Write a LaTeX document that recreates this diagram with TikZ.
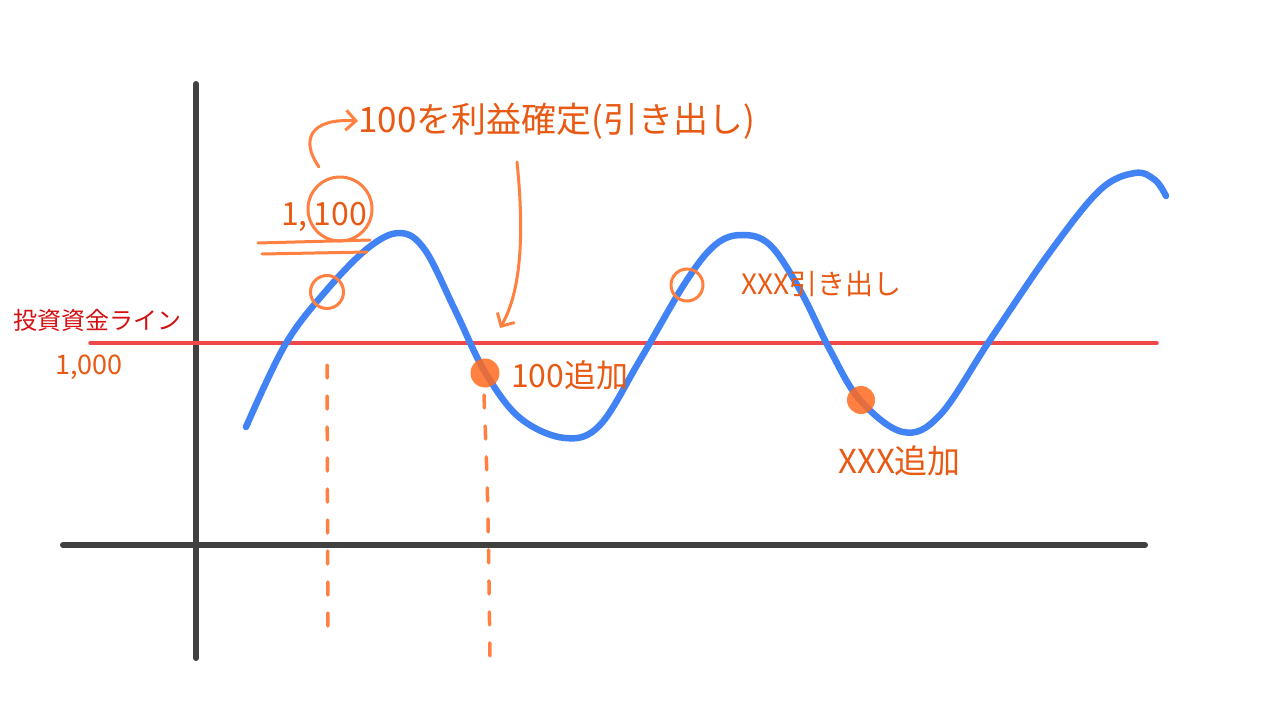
\documentclass[tikz,border=0pt]{standalone}
\usepackage{fontspec}
\setmainfont{Noto Sans CJK JP}
\usetikzlibrary{arrows.meta}
\definecolor{axisgray}{HTML}{404040}
\definecolor{lineblue}{HTML}{4183F5}
\definecolor{linered}{HTML}{F04848}
\definecolor{penorange}{HTML}{FF8040}
\definecolor{textorange}{HTML}{E85A14}
\definecolor{textred}{HTML}{D41010}
\definecolor{dotorange}{HTML}{FF6A1E}
\tikzset{
  axisline/.style={axisgray, line width=6pt, line cap=round},
  redline/.style={linered, line width=3.5pt, line cap=round},
  bluecurve/.style={lineblue, line width=6.5pt, line cap=round, line join=round},
  ocirc/.style={circle, draw=penorange, line width=3pt, inner sep=0pt},
  odot/.style={circle, fill=dotorange, fill opacity=0.85, inner sep=0pt, minimum size=29pt},
  dashline/.style={penorange, line width=3.5pt, line cap=round, dash pattern=on 13pt off 18pt},
  penline/.style={penorange, line width=3pt, line cap=round},
  penarrow/.style={penorange, line width=3pt, line cap=round, line join=round, -{Straight Barb[length=10pt,width=20pt,line width=3pt]}},
  lbl/.style={textorange, inner sep=0pt, anchor=west},
}
\begin{document}
\begin{tikzpicture}[x=1pt,y=-1pt]
\useasboundingbox (0,0) rectangle (1280,720);
% axes
\coordinate (yaxT) at (196,84);
\coordinate (yaxB) at (196,658);
\coordinate (xaxL) at (63,545);
\coordinate (xaxR) at (1145,545);
\draw[axisline] (yaxT) -- (yaxB);
\draw[axisline] (xaxL) -- (xaxR);
% red investment line
\coordinate (redL) at (90,343);
\coordinate (redR) at (1157,343);
\draw[redline] (redL) -- (redR);
% blue curve
\draw[bluecurve] plot[smooth, tension=0.6] coordinates {
 (246,427) (285,345) (325,292) (368,248) (400,233) (425,250) (455,310) (485,372)
 (520,418) (565,438) (600,425) (640,360) (685,283) (715,245) (742,235) (770,245)
 (800,290) (830,350) (860,400) (903,432) (940,415) (990,340) (1050,252) (1100,190)
 (1135,173) (1155,180) (1166,196)};
% dashed verticals
\coordinate (v1t) at (327,365);
\coordinate (v1b) at (328,640);
\coordinate (v2t) at (484,395);
\coordinate (v2b) at (490,662);
\draw[dashline] (v1t) -- (v1b);
\draw[dashline] (v2t) .. controls (488,500) .. (v2b);
% circles
\node[ocirc, minimum size=33pt] (c1) at (327,292) {};
\node[ocirc, minimum size=32pt] (c2) at (687,285) {};
% filled dots
\node[odot] (d1) at (485,373) {};
\node[odot, minimum size=28pt] (d2) at (861,400) {};
% labels
\node[textred, inner sep=0pt, anchor=west, font=\fontsize{24}{24}\selectfont] (lineLbl) at (13,320) {投資資金ライン};
\node[lbl, font=\fontsize{27}{27}\selectfont] (v1000) at (55,367) {1,000};
\node[lbl, font=\fontsize{32}{32}\selectfont] (v1100) at (281,217) {1,\kern6pt100};
\node[ocirc, minimum width=60pt, minimum height=64pt] (c100) at (340,209) {};
\coordinate (ul1a) at (258,243);
\coordinate (ul1b) at (370,240);
\coordinate (ul2a) at (262,254);
\coordinate (ul2b) at (367,252);
\draw[penline] (ul1a) -- (ul1b);
\draw[penline] (ul2a) -- (ul2b);
\node[lbl, font=\fontsize{35}{35}\selectfont] (title) at (358,121) {100を利益確定(引き出し)};
\node[lbl, font=\fontsize{32}{32}\selectfont] (add100) at (511,375) {100追加};
\node[lbl, font=\fontsize{28}{28}\selectfont] (wdXXX) at (741,284) {XXX引き出し};
\node[lbl, font=\fontsize{33}{33}\selectfont] (addXXX) at (838,461) {XXX追加};
% arrows
\coordinate (a1s) at (319,167);
\draw[penarrow] (a1s) .. controls (300,140) and (310,118) .. (title.west);
\coordinate (a2s) at (517,162);
\coordinate (a2e) at (500,328);
\draw[penarrow] (a2s) .. controls (524,230) and (522,290) .. (a2e);
\end{tikzpicture}
\end{document}
